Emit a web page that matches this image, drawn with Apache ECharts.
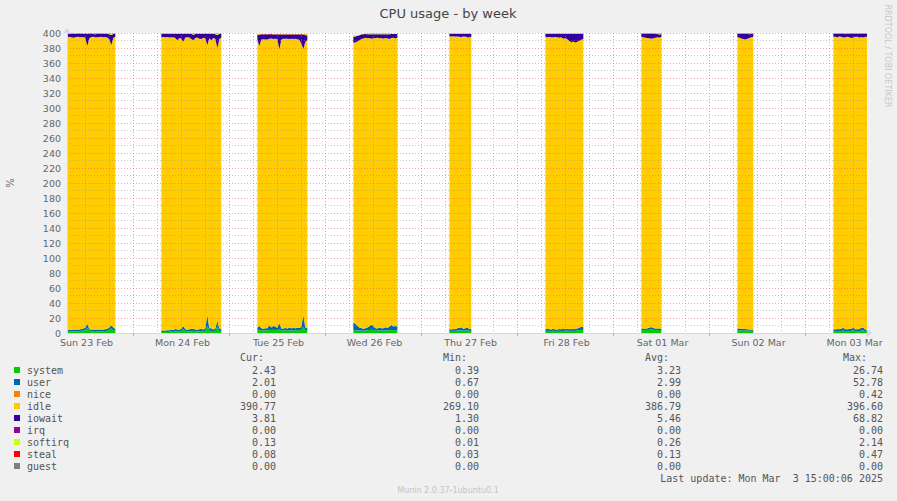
<!DOCTYPE html>
<html><head><meta charset="utf-8">
<script src="https://cdn.jsdelivr.net/npm/echarts@6/dist/echarts.min.js"></script>
<style>html,body{margin:0;padding:0;background:#F0F0F0;}#c{width:897px;height:501px;}</style>
</head><body><div id="c"></div>
<script>
// ---- data (30-minute samples, one block per day) ----
const blockStarts = ['2025-02-23T07:00:00Z','2025-02-24T07:00:00Z','2025-02-25T07:00:00Z','2025-02-26T07:00:00Z','2025-02-27T07:00:00Z','2025-02-28T07:00:00Z','2025-03-01T07:00:00Z','2025-03-02T07:00:00Z','2025-03-03T07:00:00Z'];
const blockLengths = [26,31,26,23,12,20,11,9,18];

const system = [
 2.0,1.8,1.9,2.2,2.0,2.4,2.1,2.6,3.0,3.4,4.0,7.0,3.2,2.5,2.2,2.6,2.3,2.1,2.4,2.2,2.6,3.0,4.2,6.5,4.0,2.8,
 1.5,1.4,1.6,1.5,1.8,2.0,1.7,2.2,2.0,1.8,2.5,5.5,2.4,2.0,2.2,2.4,3.0,2.2,2.0,2.2,2.4,2.0,3.0,9.5,3.5,2.8,2.2,3.0,9.0,3.0,2.0,
 4.0,4.5,3.5,3.2,3.6,3.4,4.5,3.8,4.2,4.0,3.6,5.5,3.4,3.2,3.6,3.4,3.8,3.5,3.6,3.4,3.8,3.6,4.5,8.5,4.0,3.6,
 4.0,3.8,3.6,3.4,3.2,3.0,3.4,3.6,4.0,4.5,4.0,3.4,3.2,3.6,3.4,3.2,3.6,3.4,3.8,4.5,3.6,3.8,3.6,
 3.0,2.8,3.0,2.8,3.2,3.4,3.6,3.0,3.2,3.6,3.0,2.8,
 2.8,3.0,2.8,2.6,3.0,2.8,2.6,3.0,2.8,3.0,2.8,3.2,2.8,3.0,2.8,3.0,3.2,3.6,4.2,3.8,
 4.0,3.8,4.0,4.2,4.5,5.0,4.4,4.0,3.8,4.0,3.8,
 3.6,3.5,3.4,3.4,3.2,3.2,3.0,3.0,3.0,
 2.6,2.4,2.6,2.5,2.8,3.4,2.6,2.4,2.8,3.0,3.6,2.6,2.5,2.8,3.2,3.4,2.6,2.43
];
const user = [
 2.4,2.2,2.3,2.0,2.6,2.2,2.5,2.0,2.4,2.6,3.0,5.5,2.3,2.0,2.6,2.2,2.4,2.6,2.2,2.5,2.3,2.6,3.0,4.0,3.2,2.4,
 2.0,2.1,1.9,2.2,2.0,2.6,2.4,3.0,2.6,2.4,3.2,4.0,2.6,2.4,2.8,3.0,2.6,2.6,2.4,2.8,3.0,2.6,3.4,14.5,3.0,3.6,2.6,3.0,7.5,3.4,2.6,
 3.5,5.0,2.8,2.6,2.8,3.0,6.0,3.6,5.0,4.6,3.0,8.0,2.6,2.8,3.0,2.6,3.2,2.8,3.0,2.8,3.2,3.0,4.0,15.5,3.5,2.8,
 10.0,8.5,6.0,4.0,3.4,2.8,3.0,3.6,5.0,6.5,5.5,3.0,2.8,3.4,3.0,3.2,4.0,3.6,4.5,6.5,5.0,5.5,5.2,
 2.2,2.0,2.4,2.2,3.0,3.6,4.0,2.6,3.2,3.4,2.4,2.2,
 2.0,3.0,2.2,2.0,2.8,2.0,2.2,2.4,2.2,2.6,2.2,2.6,2.2,2.4,2.2,2.6,2.8,3.4,4.5,4.0,
 2.0,2.2,1.8,2.0,2.6,3.0,2.4,2.0,2.2,2.0,2.2,
 2.4,2.5,2.4,2.2,2.0,1.8,1.8,1.6,1.6,
 2.4,2.2,2.6,2.4,2.8,3.6,2.4,2.6,2.4,2.8,3.4,2.4,2.6,2.4,3.8,3.6,2.2,2.01
];
const idle = [
 390.5,390.4,390.8,390.2,389.0,389.8,390.4,390.0,388.9,388.8,386.7,370.3,387.4,390.2,390.1,389.7,389.8,390.1,390.4,389.6,389.8,388.3,384.6,373.5,386.6,389.7,
 391.0,391.3,390.7,390.9,390.2,389.7,390.1,388.3,385.8,389.3,387.0,378.7,389.0,390.0,389.0,386.5,384.6,388.4,389.6,387.3,386.5,389.0,386.6,359.9,386.5,384.0,388.7,386.5,363.5,385.7,389.4,
 384.0,373.3,384.9,385.8,384.9,385.1,381.8,385.4,382.9,383.9,385.4,364.9,385.5,386.5,385.6,386.5,385.0,386.1,385.4,386.3,384.8,384.3,377.4,354.6,381.0,384.2,
 373.0,375.0,379.1,382.7,385.3,386.9,387.3,385.7,384.2,381.4,383.4,387.0,387.6,385.9,387.0,386.0,385.8,385.9,383.6,382.2,385.1,383.4,384.8,
 390.4,390.5,390.3,390.2,389.1,388.0,387.2,389.6,388.9,387.3,388.6,390.1,
 390.2,388.3,389.7,389.9,388.4,389.9,389.5,388.3,389.2,386.6,388.2,385.9,384.2,382.3,383.7,381.6,382.2,382.7,382.3,384.2,
 388.9,388.4,387.8,387.2,385.8,384.4,386.1,387.7,388.3,388.1,388.5,
 388.4,387.9,386.8,386.3,386.2,387.4,388.4,389.8,390.3,
 389.9,390.5,389.2,390.4,389.3,386.9,389.5,390.1,389.3,387.6,387.1,389.9,390.0,388.8,387.7,386.9,390.1,390.77
];
const iowait = [
 4.0,4.5,3.8,4.2,5.0,4.4,3.9,4.3,4.6,4.0,5.2,16.0,6.0,4.2,3.8,4.0,4.4,4.1,3.9,4.5,4.2,4.8,6.5,13.5,5.0,4.0,
 4.5,4.2,4.8,4.4,5.0,4.6,4.8,5.5,8.5,5.2,6.0,10.5,5.0,4.6,5.0,7.0,7.5,5.4,5.0,6.5,6.8,5.4,6.0,15.0,6.0,8.5,5.5,6.0,17.5,6.5,5.0,
 6.0,14.5,7.0,6.5,7.0,6.5,6.0,5.5,6.0,5.5,6.0,19.5,6.5,5.5,5.8,5.5,6.0,5.6,6.0,5.5,6.2,7.0,12.0,19.5,8.5,6.5,
 8.0,8.0,7.5,7.0,6.0,5.5,5.0,5.5,5.2,6.0,5.5,5.0,4.8,5.5,5.0,6.0,5.0,5.5,6.5,5.5,5.0,6.0,5.0,
 3.5,3.8,3.4,3.6,3.5,3.8,4.0,3.6,3.5,4.5,5.0,4.0,
 4.0,4.5,4.0,4.2,4.5,4.0,4.4,5.0,4.5,6.5,5.5,7.0,9.5,11.0,10.0,11.5,10.5,9.0,8.0,7.0,
 4.0,4.5,5.0,5.5,6.0,6.5,6.0,5.0,4.5,4.0,4.2,
 4.5,5.0,6.0,7.0,7.5,6.5,5.0,4.5,4.0,
 4.0,3.8,4.2,3.6,4.0,5.0,4.2,3.8,4.4,5.5,4.5,4.0,3.8,4.6,4.2,5.0,4.0,3.81
];
const softirq = [
 0.2,0.2,0.3,0.2,0.2,0.3,0.2,0.2,0.2,0.3,0.2,0.3,0.2,0.2,0.2,0.3,0.2,0.2,0.2,0.3,0.2,0.4,0.8,1.6,0.3,0.2,
 0.2,0.2,0.2,0.2,0.2,0.3,0.2,0.2,0.3,0.2,0.2,0.3,0.2,0.2,0.2,0.3,1.2,0.3,0.2,0.2,0.2,0.2,0.2,0.3,0.2,0.3,0.2,0.4,1.4,0.5,0.2,
 1.0,1.2,0.3,0.2,0.2,0.2,0.2,0.2,0.2,0.2,0.2,0.3,0.2,0.2,0.2,0.2,0.2,0.2,0.2,0.2,0.2,0.3,0.3,0.4,1.5,1.4,
 1.5,1.4,1.0,0.6,0.3,0.2,0.2,0.2,0.2,0.2,0.2,0.2,0.2,0.2,0.2,0.2,0.2,0.2,0.2,0.2,0.2,0.2,0.3,
 0.2,0.2,0.2,0.2,0.2,0.2,0.2,0.2,0.2,0.2,0.3,0.2,
 0.2,0.2,0.2,0.2,0.2,0.2,0.2,0.2,0.2,0.2,0.2,0.2,0.2,0.2,0.2,0.2,0.2,0.2,0.2,0.2,
 0.2,0.2,0.2,0.2,0.2,0.2,0.2,0.2,0.3,1.0,0.4,
 0.2,0.2,0.2,0.2,0.2,0.2,0.6,0.2,0.2,
 0.2,0.2,0.2,0.2,0.2,0.2,0.2,0.2,0.2,0.2,0.2,0.2,0.2,0.2,0.2,0.2,0.2,0.13
];
const steal = [
 0.1,0.1,0.1,0.4,0.45,0.1,0.1,0.1,0.1,0.1,0.1,0.1,0.1,0.1,0.35,0.4,0.1,0.1,0.1,0.1,0.1,0.1,0.1,0.1,0.1,0.1,
 0.1,0.1,0.1,0.1,0.1,0.1,0.1,0.1,0.1,0.4,0.45,0.3,0.1,0.1,0.1,0.1,0.4,0.4,0.1,0.35,0.4,0.1,0.1,0.1,0.1,0.1,0.1,0.4,0.45,0.2,0.1,
 0.1,0.1,0.1,0.35,0.1,0.4,0.1,0.1,0.35,0.4,0.4,0.4,0.4,0.4,0.4,0.45,0.4,0.4,0.4,0.45,0.4,0.4,0.4,0.1,0.1,0.1,
 0.1,0.1,0.1,0.1,0.1,0.4,0.1,0.4,0.45,0.45,0.45,0.4,0.45,0.45,0.45,0.4,0.4,0.4,0.4,0.1,0.1,0.1,0.1,
 0.1,0.1,0.1,0.45,0.45,0.45,0.45,0.45,0.45,0.4,0.1,0.1,
 0.1,0.3,0.45,0.45,0.45,0.45,0.45,0.45,0.45,0.45,0.45,0.45,0.45,0.45,0.45,0.45,0.4,0.4,0.1,0.1,
 0.1,0.1,0.4,0.1,0.1,0.1,0.1,0.35,0.1,0.1,0.1,
 0.1,0.1,0.4,0.1,0.1,0.1,0.4,0.1,0.1,
 0.1,0.1,0.4,0.1,0.1,0.1,0.35,0.1,0.1,0.1,0.4,0.1,0.1,0.4,0.1,0.1,0.1,0.08
];

const dayLabels = ['Sun 23 Feb','Mon 24 Feb','Tue 25 Feb','Wed 26 Feb','Thu 27 Feb','Fri 28 Feb','Sat 01 Mar','Sun 02 Mar','Mon 03 Mar'];

const legendNames  = ['system','user','nice','idle','iowait','irq','softirq','steal','guest'];
const legendColors = ['#00CC00','#0066B3','#FF8000','#FFCC00','#330099','#990099','#CCFF00','#FF0000','#808080'];
const curVals = ['2.43','2.01','0.00','390.77','3.81','0.00','0.13','0.08','0.00'];
const minVals = ['0.39','0.67','0.00','269.10','1.30','0.00','0.01','0.03','0.00'];
const avgVals = ['3.23','2.99','0.00','386.79','5.46','0.00','0.26','0.13','0.00'];
const maxVals = ['26.74','52.78','0.42','396.60','68.82','0.00','2.14','0.47','0.00'];

// ---- build ----
const H = 3600e3, DAY = 24*H;
const base = Date.parse('2025-02-23T00:00:00Z');
const hMin = 7 + 25/60, hMax = hMin + 200;       // hours since base
const tMin = base + hMin*H, tMax = base + hMax*H;

function build(arr){
  const out = []; let off = 0;
  blockLengths.forEach((n,b)=>{
    const t0 = Date.parse(blockStarts[b]);
    for (let k=0;k<n;k++) out.push([t0 + k*H/2, arr[off+k]]);
    out.push([t0 + n*H/2, null]);
    off += n;
  });
  return out;
}
const noonH = dayLabels.map((_,i)=> i*24 + 12.3);
const midnightH = []; for (let i=1;i<=8;i++) midnightH.push(i*24);
const sixH = []; for (let h = 12; h <= hMax; h += 6) if (h % 24 !== 0) sixH.push(h);

const MGRID = 'rgba(222,79,79,0.5)', GRID = 'rgba(143,143,143,0.5)', AXIS = '#CFD6F8';
const drawn = [
  ['system', system, '#00CC00'],
  ['user', user, '#0066B3'],
  ['idle', idle, '#FFCC00'],
  ['iowait', iowait, '#330099'],
  ['softirq', softirq, '#CCFF00'],
  ['steal', steal, '#FF0000']
];
const series = drawn.map(([name, arr, color]) => ({
  type:'line', name, stack:'cpu', xAxisIndex:0, data: build(arr), symbol:'none', showSymbol:false,
  lineStyle:{width:0}, areaStyle:{color, opacity:1}, itemStyle:{color},
  connectNulls:false, silent:true, z:2
}));

const mono = '10px "DejaVu Sans Mono"';
const g = [];
g.push({type:'text', style:{text:'CPU usage - by week', x:448, y:13, align:'center', verticalAlign:'middle', font:'13px "DejaVu Sans"', fill:'#444'}});
g.push({type:'text', x:10, y:183, rotation:Math.PI/2, style:{text:'%', x:0, y:0, align:'center', verticalAlign:'middle', font:'10px "DejaVu Sans"', fill:'#666'}});
g.push({type:'text', x:887, y:56, rotation:-Math.PI/2, style:{text:'RRDTOOL / TOBI OETIKER', x:0, y:0, align:'center', verticalAlign:'middle', font:'8px "DejaVu Sans"', fill:'#c8c8c8'}});
[['Cur:',240],['Min:',443],['Avg:',645],['Max:',843]].forEach(([t,x])=>{
  g.push({type:'text', style:{text:t, x, y:357, align:'left', verticalAlign:'middle', font:mono, fill:'#555'}});
});
legendNames.forEach((n,i)=>{
  const y = 370 + 12*i;
  g.push({type:'rect', shape:{x:14, y:y-3, width:6, height:6}, style:{fill:legendColors[i]}});
  g.push({type:'text', style:{text:n, x:27, y, align:'left', verticalAlign:'middle', font:mono, fill:'#555'}});
  [[curVals,276],[minVals,479],[avgVals,681],[maxVals,883]].forEach(([arr,x])=>{
    g.push({type:'text', style:{text:arr[i], x, y, align:'right', verticalAlign:'middle', font:mono, fill:'#555'}});
  });
});
g.push({type:'text', style:{text:'Last update: Mon Mar \u00a03 15:00:06 2025', x:883, y:478, align:'right', verticalAlign:'middle', font:mono, fill:'#555'}});
g.push({type:'text', style:{text:'Munin 2.0.37-1ubuntu0.1', x:448, y:490, align:'center', verticalAlign:'middle', font:'8px "DejaVu Sans"', fill:'#c4c4c4'}});

const chart = echarts.init(document.getElementById('c'), null, {renderer:'svg', width:897, height:501});
chart.setOption({
  backgroundColor:'#F0F0F0',
  animation:false,
  grid:{left:67, top:33, width:800, height:300, show:true, backgroundColor:'#FFFFFF', borderWidth:0},
  xAxis:[
    { type:'time', min:tMin, max:tMax, show:false, position:'bottom' },
    { type:'value', min:hMin, max:hMax, z:10, position:'bottom',
      axisLine:{show:true, onZero:false, lineStyle:{color:AXIS}, symbol:['none','arrow'], symbolSize:[6,6], symbolOffset:[0,5]},
      axisTick:{show:true, customValues:midnightH, length:3, lineStyle:{color:MGRID}},
      axisLabel:{customValues:noonH, color:'#666', fontSize:9.5, fontFamily:'DejaVu Sans', margin:4, hideOverlap:false,
        formatter:(v)=> dayLabels[Math.floor(v/24)] || ''},
      splitLine:{show:true, lineStyle:{color:MGRID, type:[1,2], width:1}}
    },
    { type:'value', min:hMin, max:hMax, z:9, position:'bottom',
      axisLine:{show:false}, axisLabel:{show:false},
      axisTick:{show:false, customValues:sixH},
      splitLine:{show:true, lineStyle:{color:GRID, type:[1,2], width:1}}
    }
  ],
  yAxis:{ type:'value', min:0, max:400, interval:20, z:10,
    axisLine:{show:true, lineStyle:{color:AXIS}, symbol:['none','arrow'], symbolSize:[6,6], symbolOffset:[0,5]},
    axisTick:{show:false},
    axisLabel:{color:'#666', fontSize:9.5, fontFamily:'DejaVu Sans', margin:6},
    splitLine:{show:true, lineStyle:{color:MGRID, type:[1,2], width:1}},
    minorTick:{show:false, splitNumber:2},
    minorSplitLine:{show:true, lineStyle:{color:GRID, type:[1,2], width:1}}
  },
  series,
  graphic:g
});
</script>
</body></html>
